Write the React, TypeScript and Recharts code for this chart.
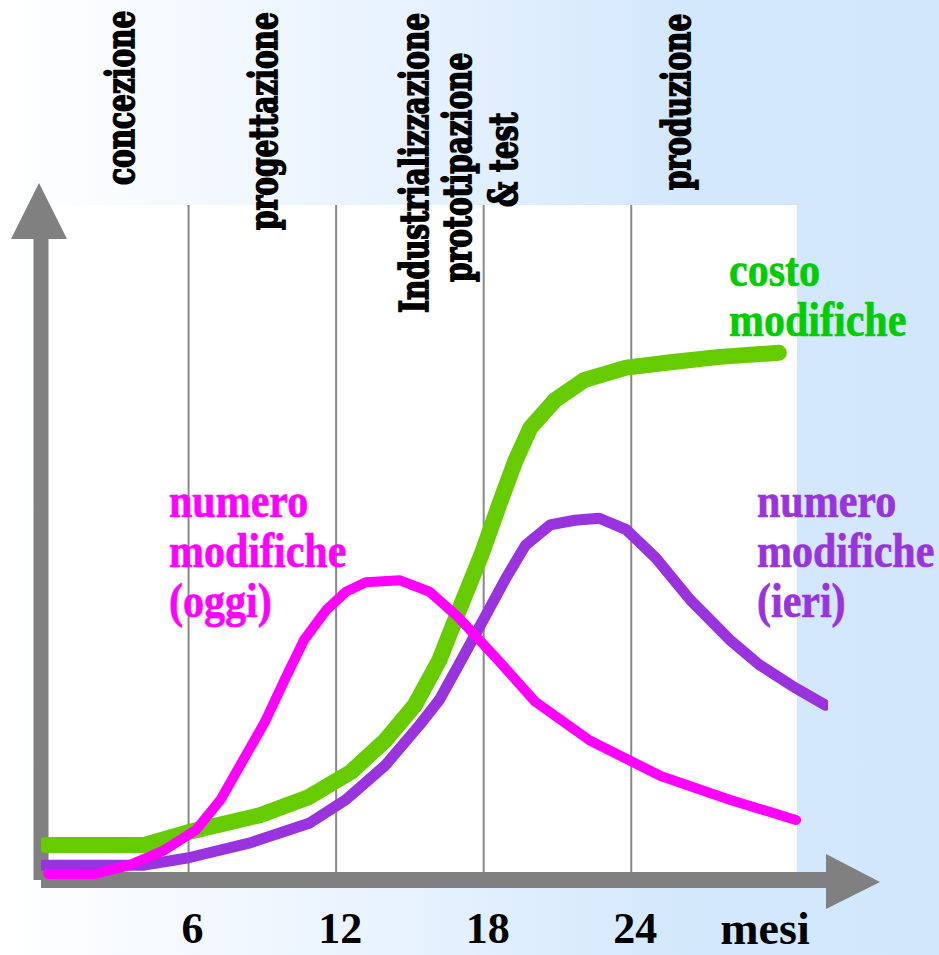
import React from 'react';
import { LineChart, Line, XAxis, YAxis, ReferenceLine, ReferenceArea } from 'recharts';

// mesi (x) e valori relativi 0-100 (y)
const costMonths = [0.2, 4.2, 6.0, 8.9, 10.9, 12.6, 14.0, 15.2, 16.2, 17.0, 17.9, 18.7, 19.3, 19.9, 20.9, 22.1, 23.8, 25.6, 27.6, 30.0];
const costValues = [5.2, 5.2, 7.1, 9.6, 12.3, 16.0, 20.7, 25.9, 32.6, 40.0, 48.1, 56.3, 62.2, 67.0, 71.1, 74.1, 75.9, 76.7, 77.5, 78.1];

const ieriMonths = [0.1, 4.2, 6.0, 8.5, 10.9, 12.4, 14.0, 15.4, 16.2, 17.2, 18.1, 18.9, 19.7, 20.7, 21.7, 22.7, 23.8, 25.0, 26.4, 28.0, 29.2, 30.7, 31.9];
const ieriValues = [2.2, 2.2, 3.3, 5.5, 8.4, 11.9, 17.0, 23.0, 26.7, 33.3, 39.3, 44.7, 49.6, 52.6, 53.3, 53.6, 51.9, 47.7, 41.5, 35.6, 31.9, 28.4, 25.9];

const oggiMonths = [0.3, 2.2, 3.6, 5.0, 6.3, 7.3, 8.1, 9.1, 9.9, 10.7, 11.6, 12.4, 13.2, 14.6, 15.8, 17.0, 18.5, 20.1, 22.3, 25.2, 28.0, 30.7];
const oggiValues = [0.9, 0.9, 2.2, 4.4, 7.4, 11.9, 17.0, 23.4, 29.6, 35.6, 40.0, 42.7, 44.1, 44.4, 42.7, 38.8, 32.9, 26.4, 20.7, 15.4, 11.9, 8.9];

const monthTicks = [6, 12, 18, 24];
const phaseLabels = ['concezione', 'progettazione', 'Industrializzazione', 'prototipazione', '& test', 'produzione'];

const toRows = (months: number[], values: number[]) => months.map((m, i) => ({ m, v: values[i] }));
const costData = toRows(costMonths, costValues);
const ieriData = toRows(ieriMonths, ieriValues);
const oggiData = toRows(oggiMonths, oggiValues);

// posizione (linea di base x, inizio y) delle scritte verticali
const phasePos = [
    [134, 185],
    [277, 230],
    [428, 313],
    [471, 282],
    [517, 207],
    [690, 190],
];

const SERIF_B = '"Liberation Serif", "Times New Roman", serif';

const MonthTick = (props: any) => {
    const { x, y, payload } = props;
    return (
        <text x={x + 4} y={y + 55} textAnchor="middle"
              fontFamily={SERIF_B} fontWeight="bold" fontSize={44} fill="#000">
            {payload.value}
        </text>
    );
};

const SeriesLabel = ({ x, y, lines, color }: { x: number; y: number; lines: string[]; color: string }) => (
    <g>
        {lines.map((t, i) => (
            <text key={i} transform={`translate(${x},${y + i * 50}) scale(1,1.15)`}
                  fontFamily={SERIF_B} fontWeight="bold" fontSize={42} fill={color}
                  stroke={color} strokeWidth={0.6}>{t}</text>
        ))}
    </g>
);

const App: React.FC = () => {
    return (
        <div style={{
            position: 'absolute', left: 0, top: 0, width: 939, height: 955,
            background: 'linear-gradient(to right, #ffffff 0%, #e9f3fe 40%, #d4e8fc 72%, #d2e7fb 100%)'
        }}>
            <LineChart width={939} height={955} data={costData}
                       margin={{ top: 205, right: 111, bottom: 15, left: 1 }}>
                <XAxis dataKey="m" type="number" domain={[0, 32]} allowDataOverflow
                       ticks={monthTicks} interval={0} height={60} tickLine={false}
                       axisLine={false} tick={<MonthTick/>}/>
                <YAxis type="number" domain={[0, 100]} width={40} tick={false} tickLine={false} axisLine={false}/>
                <ReferenceArea x1={0} x2={30.74} y1={0} y2={100} fill="#ffffff" fillOpacity={1} stroke="none"/>
                {monthTicks.map((t) => (
                    <ReferenceLine key={t} x={t} stroke="#888888" strokeWidth={2}/>
                ))}
                {/* assi grigi spessi, sotto le curve */}
                <ReferenceLine y={0} stroke="#808080" strokeWidth={16}/>
                <ReferenceLine x={0} stroke="#808080" strokeWidth={15}/>
                <Line data={costData} dataKey="v" type="linear" stroke="#66cc00" strokeWidth={16}
                      strokeLinecap="round" strokeLinejoin="round" dot={false} activeDot={false}
                      isAnimationActive={false}/>
                <Line data={ieriData} dataKey="v" type="linear" stroke="#9933dd" strokeWidth={11}
                      strokeLinecap="round" strokeLinejoin="round" dot={false} activeDot={false}
                      isAnimationActive={false}/>
                <Line data={oggiData} dataKey="v" type="linear" stroke="#ff00ff" strokeWidth={10}
                      strokeLinecap="round" strokeLinejoin="round" dot={false} activeDot={false}
                      isAnimationActive={false}/>
            </LineChart>
            <svg width={939} height={955} style={{ position: 'absolute', left: 0, top: 0, pointerEvents: 'none' }}>
                <polygon points="11,239 39,183 67,239" fill="#808080"/>
                <polygon points="826,854 880,882 826,909" fill="#808080"/>
                {phaseLabels.map((t, i) => {
                    const [bx, by] = phasePos[i];
                    return (
                        <text key={t} transform={`translate(${bx},${by}) rotate(-90) scale(1,1.39)`}
                              fontFamily='"DejaVu Serif", serif' fontWeight="bold" fontSize={28} fill="#000"
                              stroke="#000" strokeWidth={1.2}>{t}</text>
                    );
                })}
                <text x={765} y={944} textAnchor="middle"
                      fontFamily={SERIF_B} fontWeight="bold" fontSize={46} fill="#000">mesi</text>
                <SeriesLabel x={169} y={517} lines={['numero', 'modifiche', '(oggi)']} color="#ff00ff"/>
                <SeriesLabel x={757} y={517} lines={['numero', 'modifiche', '(ieri)']} color="#9933dd"/>
                <SeriesLabel x={729} y={286} lines={['costo', 'modifiche']} color="#00cc00"/>
            </svg>
        </div>
    );
};

export default App;
